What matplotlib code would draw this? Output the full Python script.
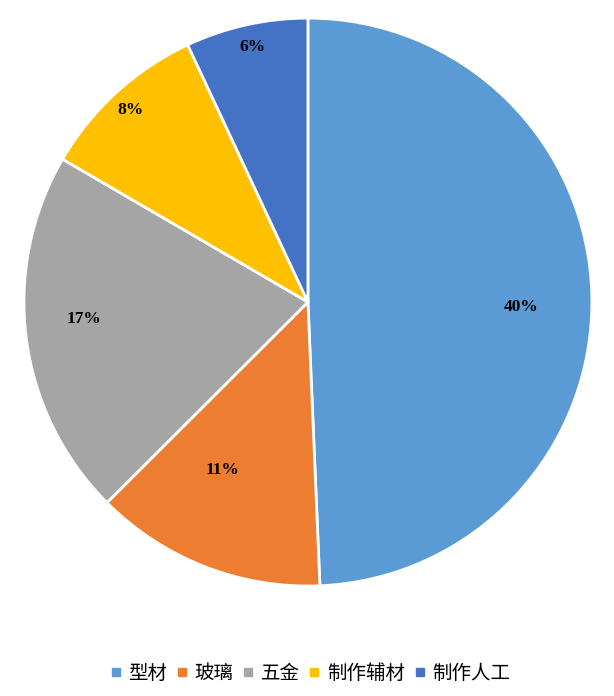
import matplotlib
matplotlib.use("Agg")
import matplotlib.pyplot as plt
import numpy as np
from matplotlib.lines import Line2D

plt.rcParams['font.family'] = ['Noto Sans CJK SC', 'DejaVu Sans']

categories = ['型材', '玻璃', '五金', '制作辅材', '制作人工']
values = [40.4, 10.8, 17.1, 7.9, 5.7]   # percent (labels shown rounded)
colors = ['#5B9BD5', '#ED7D31', '#A5A5A5', '#FFC000', '#4472C4']
label_dist = [0.75, 0.665, 0.79, 0.92, 0.92]
label_shift = [-2.6, -5.7, -3.1, 0.4, -0.2]   # degrees, label placement tweak

fig = plt.figure(figsize=(6.14, 6.96), dpi=100)
ax = fig.add_axes([0.039, 0.158, 0.925, 0.816])
wedges, _ = ax.pie(values, colors=colors, startangle=90, counterclock=False,
                   wedgeprops=dict(edgecolor='white', linewidth=2))
ax.set_aspect('equal')
ax.set_xlim(-1, 1)
ax.set_ylim(-1, 1)

for w, v, d, s in zip(wedges, values, label_dist, label_shift):
    ang = np.deg2rad((w.theta1 + w.theta2) / 2 + s)
    ax.text(d * np.cos(ang), d * np.sin(ang), f"{v:.0f}%", ha='center', va='center',
            fontsize=12.5, fontweight='bold',
            family=['Liberation Serif', 'DejaVu Serif'], color='black')

handles = [Line2D([0], [0], marker='s', linestyle='none', markersize=5.5,
                  markerfacecolor=c, markeredgecolor=c) for c in colors]
fig.legend(handles, categories, loc='center', bbox_to_anchor=(0.505, 0.033),
           ncol=5, frameon=False, fontsize=14, handlelength=0.6,
           handletextpad=0.35, columnspacing=0.45)

fig.savefig('out.png', dpi=100)
